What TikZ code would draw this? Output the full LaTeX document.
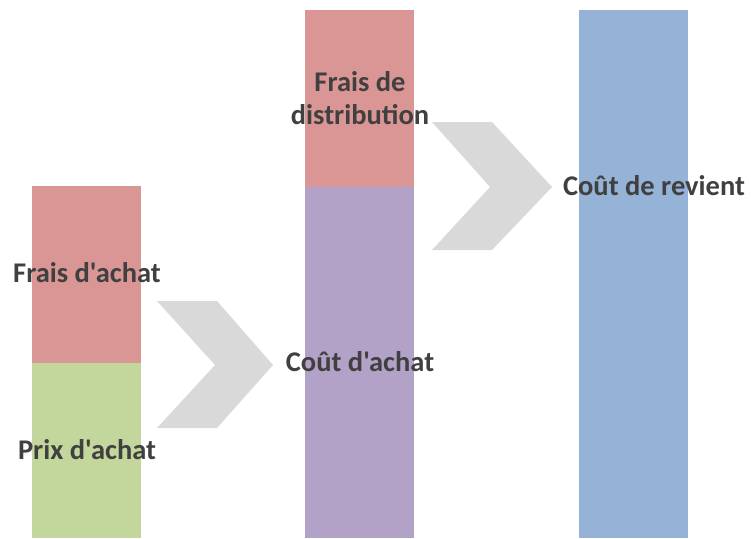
\documentclass[tikz,border=0pt]{standalone}
\usepackage{fontspec}
\newfontfamily\lblfont{Carlito}
\definecolor{cred}{HTML}{D99694}
\definecolor{cgreen}{HTML}{C3D69B}
\definecolor{cpurple}{HTML}{B3A2C7}
\definecolor{cblue}{HTML}{95B3D7}
\definecolor{cgray}{HTML}{D9D9D9}
\definecolor{ctext}{HTML}{404040}
\begin{document}
\begin{tikzpicture}[x=1pt,y=-1pt,
  bar/.style={draw=none,inner sep=0pt,minimum width=109pt},
  lbl/.style={text=ctext,font=\lblfont\fontsize{28.5}{33}\selectfont\bfseries,align=center,inner sep=0pt},
  chev/.style={fill=cgray,draw=none}]
\useasboundingbox (0,0) rectangle (751,538);
% bar 1
\node[bar,fill=cred,minimum height=177pt,anchor=north west] (fa) at (32,186) {};
\node[bar,fill=cgreen,minimum height=175pt,anchor=north west] (pa) at (32,363) {};
% bar 2
\node[bar,fill=cred,minimum height=177pt,anchor=north west] (fd) at (305,10) {};
\node[bar,fill=cpurple,minimum height=351pt,anchor=north west] (ca) at (305,187) {};
% bar 3
\node[bar,fill=cblue,minimum height=528pt,anchor=north west] (cr) at (579,10) {};
% chevrons
\fill[chev] (157,301) -- (217,301) -- (273,365) -- (217,428) -- (157,428) -- (215,365) -- cycle;
\fill[chev] (432,122) -- (492,122) -- (552,187) -- (492,250) -- (432,250) -- (490,187) -- cycle;
% labels
\node[lbl] (tfa) at (87,273) {Frais d'achat};
\node[lbl] (tpa) at (87,450) {Prix d'achat};
\node[lbl] (tca) at (360,362) {Coût d'achat};
\node[lbl] (tfd) at (360,98) {Frais de\\distribution};
\node[lbl] (tcr) at (654,186) {Coût de revient};
\end{tikzpicture}
\end{document}
